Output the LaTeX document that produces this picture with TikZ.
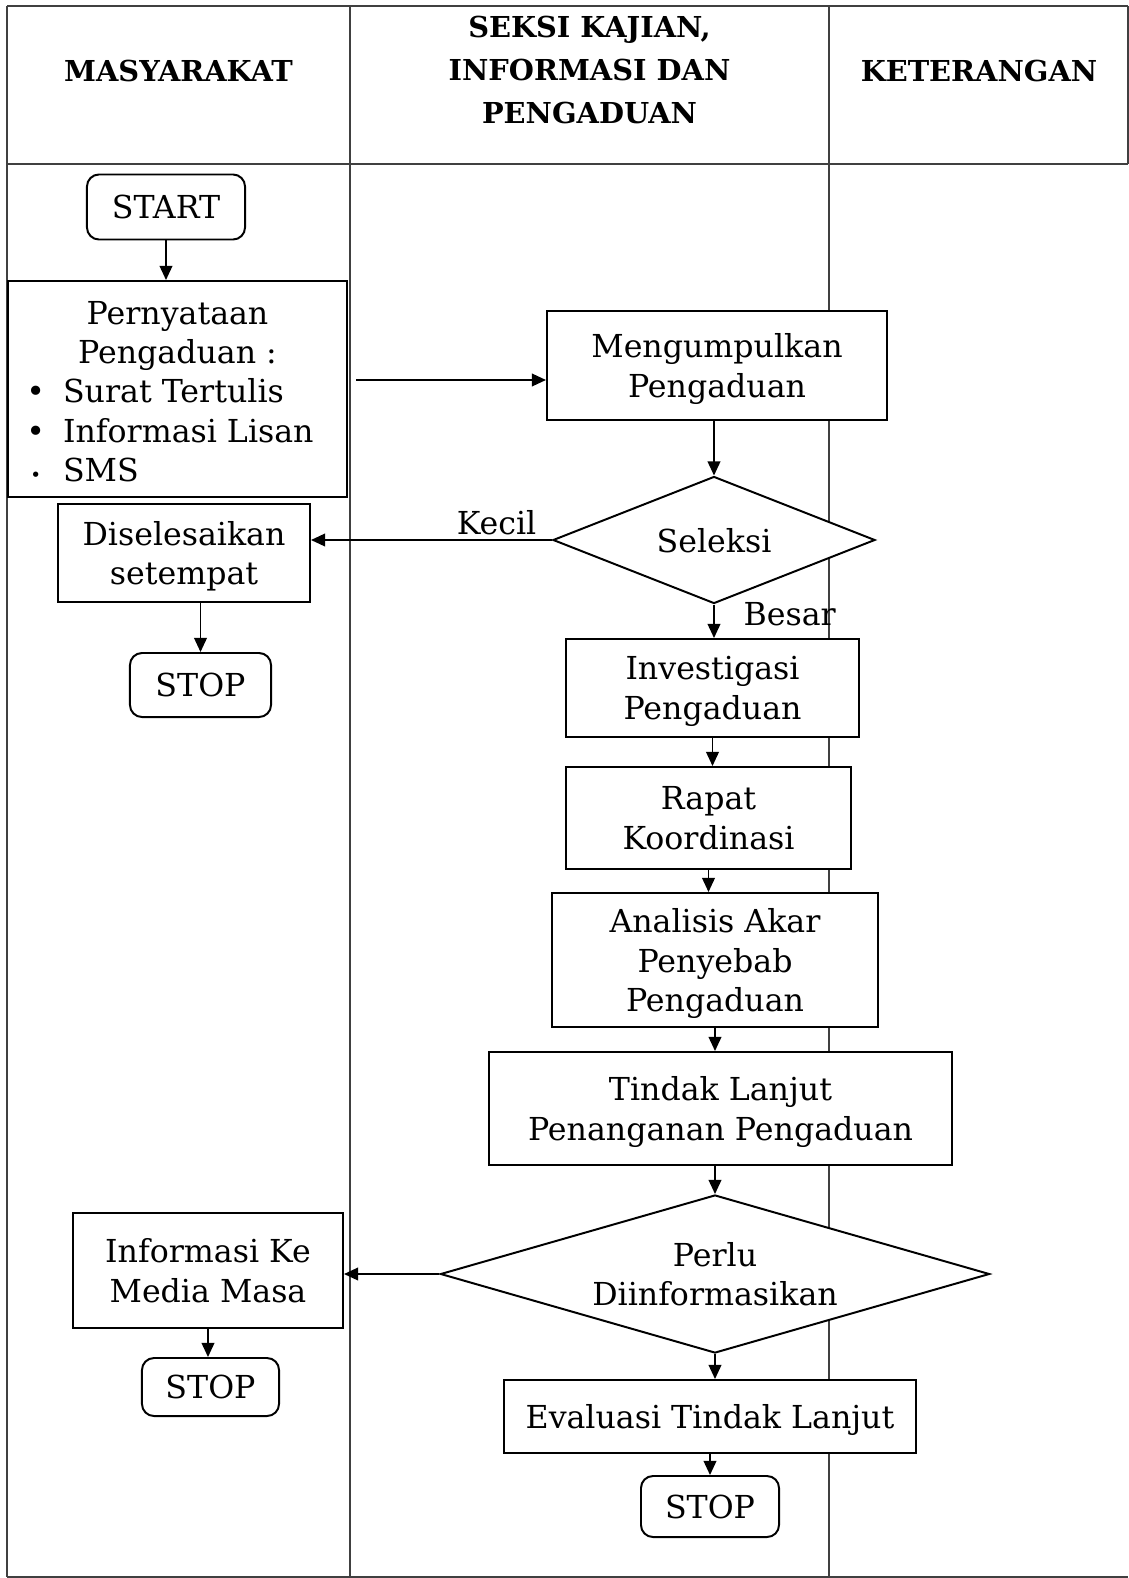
\documentclass[tikz,border=0pt]{standalone}
\usepackage{fontspec}
\setmainfont{DejaVu Serif}
\usepackage{tikz}
\usetikzlibrary{shapes.geometric, arrows.meta}
\tikzstyle{process} = [rectangle, draw=black, line width=1.4pt, fill=white, align=center, inner sep=0pt, text depth=-3pt]
\tikzstyle{decision} = [diamond, draw=black, line width=1.4pt, fill=white, align=center, inner sep=0pt, text depth=-3pt]
\tikzstyle{startstop} = [rectangle, rounded corners=0.3cm, draw=black, line width=1.4pt, fill=white, align=center, inner sep=0pt, text depth=-3pt]
\tikzstyle{arrow} = [line width=1.2pt,->,>={Triangle[length=10pt,width=9pt]}]
\tikzstyle{lane} = [line width=0.8pt, black!75]
\tikzstyle{head} = [font=\fontsize{20.5}{30.5}\selectfont\bfseries, align=center]

\begin{document}
\begin{tikzpicture}[x=0.025cm, y=-0.025cm, font=\fontsize{22.5}{28}\selectfont]
                    \useasboundingbox (0,0) rectangle (1129,1578);
                    % table
                    \draw [lane] (7,6) -- (1128,6);
                    \draw [lane] (7,164) -- (1128,164);
                    \draw [lane] (7,1577) -- (1128,1577);
                    \draw [lane] (7,6) -- (7,1577);
                    \draw [lane] (350,6) -- (350,1577);
                    \draw [lane] (829,6) -- (829,1577);
                    \draw [lane] (1128,6) -- (1128,164);
                    \node [head] (hmas) at (178.5,71) {MASYARAKAT};
                    \node [head] (hsek) at (589.5,70) {SEKSI KAJIAN,\\INFORMASI DAN\\PENGADUAN};
                    \node [head] (hket) at (979,71) {KETERANGAN};
                    % steps
                    \node [startstop, minimum width=3.95cm, minimum height=1.625cm] (start) at (166,207) {START};
                    \node [process, minimum width=8.475cm, minimum height=5.4cm] (stmt) at (177.5,389) {%
                        \renewcommand{\arraystretch}{1}%
                        \begin{tabular}[b]{@{}c@{\hspace{0.45cm}}l@{\hspace{0.375cm}}}
                        \multicolumn{2}{c}{Pernyataan}\\
                        \multicolumn{2}{c}{Pengaduan :}\\
                        \textbullet & Surat Tertulis\\
                        \textbullet & Informasi Lisan\\
                        {\fontsize{13}{13}\selectfont\textbullet} & SMS
                        \end{tabular}};
                    \node [process, minimum width=8.5cm, minimum height=2.725cm] (collect) at (717,365.5) {Mengumpulkan\\Pengaduan};
                    \node [decision, aspect=2.54, minimum width=8.05cm, minimum height=3.175cm] (select) at (714,540) {Seleksi};
                    \node [process, minimum width=6.3cm, minimum height=2.45cm] (settle) at (184,553) {Diselesaikan\\setempat};
                    \node [startstop, minimum width=3.525cm, minimum height=1.6cm] (stopa) at (200.5,685) {STOP};
                    \node [process, minimum width=7.325cm, minimum height=2.45cm] (probe) at (712.5,688) {Investigasi\\Pengaduan};
                    \node [process, minimum width=7.125cm, minimum height=2.55cm] (meet) at (708.5,818) {Rapat\\Koordinasi};
                    \node [process, minimum width=8.15cm, minimum height=3.35cm] (cause) at (715,960) {Analisis Akar\\Penyebab\\Pengaduan};
                    \node [process, minimum width=11.575cm, minimum height=2.825cm] (follow) at (720.5,1108.5) {Tindak Lanjut\\Penanganan Pengaduan};
                    \node [decision, aspect=3.47, minimum width=13.725cm, minimum height=3.95cm] (inform) at (715,1274) {Perlu\\Diinformasikan};
                    \node [process, minimum width=6.75cm, minimum height=2.875cm] (media) at (208,1270.5) {Informasi Ke\\Media Masa};
                    \node [startstop, minimum width=3.425cm, minimum height=1.45cm] (stopb) at (210.5,1387) {STOP};
                    \node [process, minimum width=10.3cm, minimum height=1.825cm] (evaluate) at (710,1416.5) {Evaluasi Tindak Lanjut};
                    \node [startstop, minimum width=3.45cm, minimum height=1.525cm] (stopc) at (710,1506.5) {STOP};
                    % links
                    \draw [arrow] (start.south) -- (start.south |- stmt.north);
                    \draw [arrow] ([xshift=0.2cm,yshift=0.225cm]stmt.east) -- ([yshift=0.225cm]stmt.east -| collect.west);
                    \draw [arrow] (select.north |- collect.south) -- (select.north);
                    \draw [arrow] (select.west) -- (select.west -| settle.east) node [pos=0.23, above] {Kecil};
                    \draw [arrow] (stopa.north |- settle.south) -- (stopa.north);
                    \draw [arrow] (select.south) -- (select.south |- probe.north) node [pos=0.3, right=0.6cm] {Besar};
                    \draw [arrow] (probe.south) -- (probe.south |- meet.north);
                    \draw [arrow] (meet.south) -- (meet.south |- cause.north);
                    \draw [arrow] (cause.south) -- (cause.south |- follow.north);
                    \draw [arrow] (inform.north |- follow.south) -- (inform.north);
                    \draw [arrow] (inform.west) -- (inform.west -| media.east);
                    \draw [arrow] (media.south) -- (media.south |- stopb.north);
                    \draw [arrow] (inform.south) -- (inform.south |- evaluate.north);
                    \draw [arrow] (evaluate.south) -- (evaluate.south |- stopc.north);
                \end{tikzpicture}
\end{document}
